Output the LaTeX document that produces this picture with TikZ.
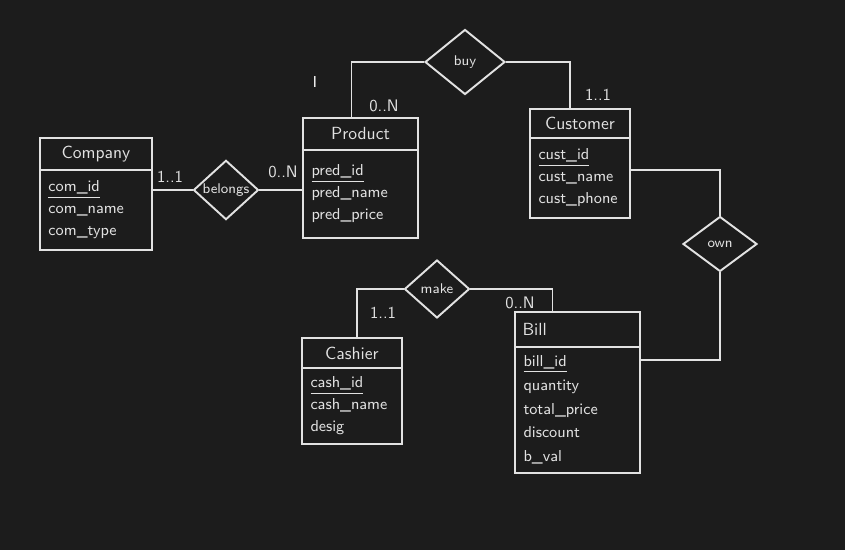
\documentclass[tikz,border=0pt]{standalone}
\usepackage{tikz}
\usetikzlibrary{shapes.geometric,positioning}
\definecolor{board}{RGB}{28,28,28}
\definecolor{chalk}{RGB}{226,226,226}
\tikzset{
  title/.style={rectangle, draw=chalk, line width=1.1pt, outer sep=0pt, text=chalk, inner sep=2pt, font=\sffamily\fontsize{10}{12}\selectfont},
  attrs/.style={rectangle, draw=chalk, line width=1.1pt, outer sep=0pt, text=chalk, align=left, inner sep=5pt, font=\sffamily\fontsize{9}{12.5}\selectfont},
  rel/.style={diamond, draw=chalk, line width=1.1pt, text=chalk, inner sep=0pt, font=\sffamily\fontsize{8}{9}\selectfont},
  card/.style={text=chalk, font=\sffamily\fontsize{9.5}{10}\selectfont},
  connect/.style={draw=chalk, line width=1.1pt}
}

\begin{document}
\begin{tikzpicture}[x=0.02cm, y=-0.02cm]
  \path[use as bounding box, fill=board] (0,0) rectangle (845,550);

  % entities
  \node[title, anchor=north west, minimum width=2.24cm, minimum height=0.64cm] (comtitle) at (40,138) {Company};
  \node[attrs, below=0pt of comtitle, text width=1.9cm, minimum height=1.6cm] (combody) {\underline{com\_id}\\com\_name\\com\_type};

  \node[title, anchor=north west, minimum width=2.3cm, minimum height=0.64cm] (prodtitle) at (303,118) {Product};
  \node[attrs, below=0pt of prodtitle, text width=1.96cm, minimum height=1.76cm] (prodbody) {\underline{pred\_id}\\pred\_name\\pred\_price};

  \node[title, anchor=north west, minimum width=2.0cm, minimum height=0.58cm] (custtitle) at (530,109) {Customer};
  \node[attrs, below=0pt of custtitle, text width=1.66cm, minimum height=1.6cm] (custbody) {\underline{cust\_id}\\cust\_name\\cust\_phone};

  \node[title, anchor=north west, minimum width=2.0cm, minimum height=0.6cm] (cashtitle) at (302,338) {Cashier};
  \node[attrs, below=0pt of cashtitle, text width=1.66cm, minimum height=1.48cm] (cashbody) {\underline{cash\_id}\\cash\_name\\desig};

  \node[title, anchor=north west, minimum width=2.5cm, minimum height=0.7cm, text width=2.2cm, align=left] (billtitle) at (515,312) {Bill};
  \node[attrs, below=0pt of billtitle, text width=2.16cm, minimum height=2.4cm, font=\sffamily\fontsize{9}{13.5}\selectfont] (billbody) {\underline{bill\_id}\\quantity\\total\_price\\discount\\b\_val};

  % relationships
  \node[rel, minimum width=1.3cm, minimum height=1.14cm] (belongs) at (226,190) {belongs};
  \node[rel, minimum width=1.6cm, minimum height=1.3cm] (buy) at (465,62) {buy};
  \node[rel, minimum width=1.48cm, minimum height=1.1cm] (own) at (720,244) {own};
  \node[rel, minimum width=1.3cm, minimum height=1.16cm] (make) at (437,289) {make};

  % connectors
  \path[connect] (belongs.west) -- (belongs.west -| combody.east);
  \path[connect] (belongs.east) -- (belongs.east -| prodbody.west);
  \path[connect] ([xshift=-0.18cm]prodtitle.north) |- (buy.west);
  \path[connect] (buy.east) -| ([xshift=-0.2cm]custtitle.north);
  \path[connect] ([yshift=0.16cm]custbody.east) -| (own.north);
  \path[connect] (own.south) |- ([yshift=1cm]billbody.east);
  \path[connect] (make.east) -| ([xshift=-0.5cm]billtitle.north);
  \path[connect] (make.west) -| ([xshift=0.1cm]cashtitle.north);

  % cardinalities
  \node[card] (c1) at (170,177) {1..1};
  \node[card] (c2) at (283,172) {0..N};
  \node[card] (c3) at (384,106) {0..N};
  \node[card] (c4) at (598,95) {1..1};
  \node[card] (c5) at (383,313) {1..1};
  \node[card] (c6) at (520,303) {0..N};

  \node[text=chalk!70, font=\sffamily\fontsize{9}{10}\selectfont] (cursor) at (315,82) {I};
\end{tikzpicture}
\end{document}
